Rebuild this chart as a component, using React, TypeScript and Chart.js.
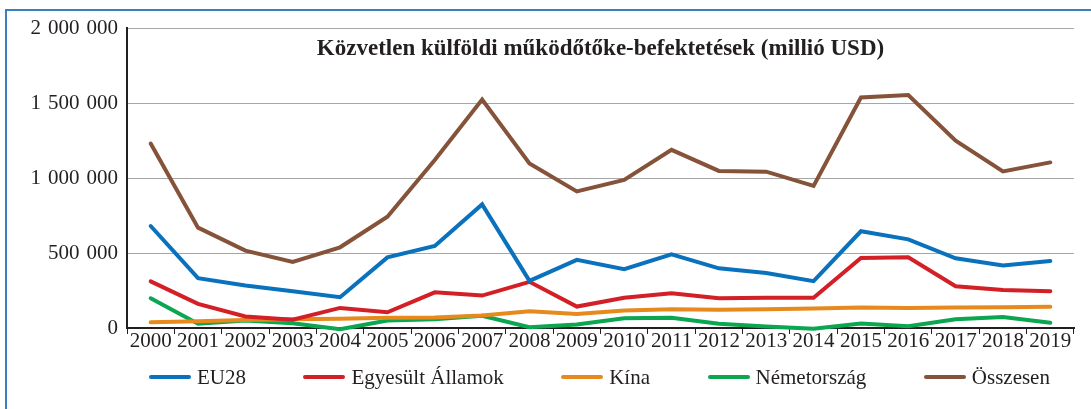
import React, { useEffect, useRef } from "react";
import { Chart, registerables } from "chart.js";

Chart.register(...registerables);

const years = ["2000","2001","2002","2003","2004","2005","2006","2007","2008","2009","2010","2011","2012","2013","2014","2015","2016","2017","2018","2019"];

const eu28 = [680000, 332000, 283000, 245000, 205000, 471000, 547000, 824000, 314000, 454000, 392000, 491000, 398000, 367000, 312000, 645000, 591000, 465000, 416000, 447000];
const usa = [311000, 161000, 77000, 55000, 134000, 105000, 238000, 216000, 308000, 143000, 201000, 232000, 198000, 201000, 201000, 467000, 471000, 278000, 254000, 245000];
const china = [39000, 45000, 53000, 58000, 61000, 68000, 70000, 83000, 112000, 94000, 117000, 125000, 121000, 125000, 130000, 136000, 134000, 136000, 139000, 141000];
const germany = [198000, 28000, 50000, 32000, -8000, 50000, 59000, 81000, 5000, 23000, 65000, 68000, 28000, 10000, -5000, 30000, 12000, 59000, 74000, 35000];
const total = [1230000, 669000, 516000, 441000, 538000, 742000, 1120000, 1523000, 1097000, 911000, 987000, 1188000, 1047000, 1042000, 947000, 1537000, 1553000, 1248000, 1044000, 1104000];

const seriesNames = ["EU28", "Egyesült Államok", "Kína", "Németország", "Összesen"];
const seriesColors = ["#0a72bd", "#d31f26", "#e68a1e", "#0aa650", "#84533a"];
const titleText = "Közvetlen külföldi működőtőke-befektetések (millió USD)";

const FONT = "'Liberation Serif', 'DejaVu Serif', serif";
const TEXT_COLOR = "#231f20";

const fmt = (v: number) =>
  String(v).replace(/\B(?=(\d{3})+(?!\d))/g, "\u2004");

const titlePlugin = {
  id: "innerTitle",
  afterDraw(chart: any) {
    const { ctx, chartArea } = chart;
    ctx.save();
    ctx.font = `bold 23px ${FONT}`;
    ctx.fillStyle = TEXT_COLOR;
    ctx.textAlign = "center";
    ctx.textBaseline = "middle";
    ctx.fillText(titleText, (chartArea.left + chartArea.right) / 2, chartArea.top + 21);
    ctx.restore();
  },
};

export default function App() {
  const ref = useRef<HTMLCanvasElement | null>(null);

  useEffect(() => {
    if (!ref.current) return;
    const data = [eu28, usa, china, germany, total];
    const chart = new Chart(ref.current, {
      type: "line",
      data: {
        labels: years,
        datasets: data.map((d, i) => ({
          label: seriesNames[i],
          data: d,
          borderColor: seriesColors[i],
          backgroundColor: seriesColors[i],
          borderWidth: 4,
          pointRadius: 0,
          tension: 0,
          fill: false,
          clip: false as any,
          borderCapStyle: "round" as const,
          borderJoinStyle: "miter" as const,
        })),
      },
      options: {
        animation: false,
        responsive: false,
        maintainAspectRatio: false,
        layout: { padding: { top: 28, right: 17, left: 0, bottom: 51 } },
        plugins: {
          title: { display: false },
          tooltip: { enabled: false },
          legend: { display: false },
        },
        scales: {
          x: {
            offset: true,
            grid: {
              offset: true,
              drawOnChartArea: false,
              drawTicks: true,
              tickLength: 6,
              color: TEXT_COLOR,
              lineWidth: 1,
            },
            border: { display: true, color: TEXT_COLOR, width: 2 },
            ticks: {
              color: TEXT_COLOR,
              padding: -5,
              maxRotation: 0,
              autoSkip: false,
              font: { family: FONT, size: 21 },
            },
            afterFit: (s: any) => { s.height = 30; },
          },
          y: {
            min: 0,
            max: 2000000,
            grid: { color: "#a6a6a6", lineWidth: 1, drawTicks: false },
            border: { display: true, color: TEXT_COLOR, width: 2 },
            ticks: {
              stepSize: 500000,
              padding: 9,
              color: TEXT_COLOR,
              font: { family: FONT, size: 21 },
              callback: (v: any) => fmt(Number(v)),
            },
            afterFit: (s: any) => { s.width = 127; },
          },
        },
      },
      plugins: [titlePlugin],
    });
    return () => chart.destroy();
  }, []);

  return (
    <div style={{ position: "absolute", left: 0, top: 0, width: 1091, height: 409, background: "#fff", overflow: "hidden" }}>
      <div style={{ position: "absolute", left: 5, top: 9, width: 1200, height: 500, borderLeft: "2px solid #3b7fc0", borderTop: "2px solid #3b7fc0" }} />
      <canvas ref={ref} width={1091} height={409} style={{ position: "absolute", left: 0, top: 0, width: 1091, height: 409 }} />
      <div
        style={{
          position: "absolute",
          left: 149,
          top: 365,
          width: 901,
          height: 24,
          display: "flex",
          justifyContent: "space-between",
          alignItems: "center",
          fontFamily: FONT,
          fontSize: 21,
          lineHeight: "24px",
          color: TEXT_COLOR,
          whiteSpace: "nowrap",
        }}
      >
        {seriesNames.map((name, i) => (
          <div key={name} style={{ display: "flex", alignItems: "center" }}>
            <span style={{ display: "inline-block", width: 42, height: 4, borderRadius: 2, background: seriesColors[i], marginRight: 6 }} />
            <span>{name}</span>
          </div>
        ))}
      </div>
    </div>
  );
}
